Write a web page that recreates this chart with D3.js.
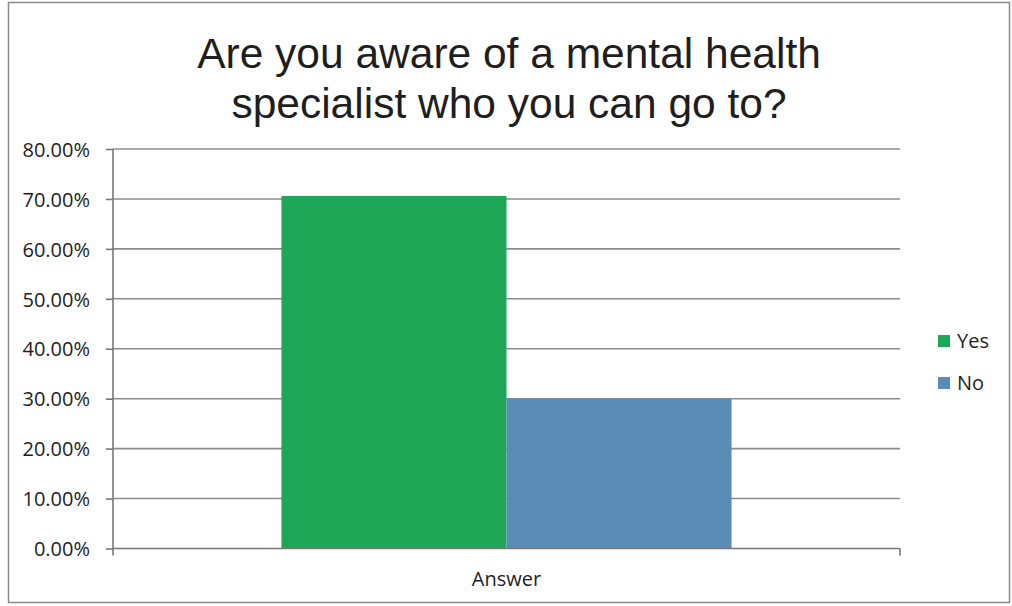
<!DOCTYPE html>
<meta charset="utf-8">
<html>
<head>
	<script src="https://cdn.jsdelivr.net/npm/d3@7/dist/d3.min.js"></script>
	<style>
		body { margin: 0; background: #fff; }
		svg text { fill: #1e1e1e; }
		.tick text { font-family: "Open Sans", "Noto Sans", sans-serif; font-size: 20px; }
	</style>
</head>
<body>
	<svg id="chart"></svg>
	<script>
	var categories = ["Answer"];
	var seriesNames = ["Yes", "No"];
	var seriesValues = [70.6, 30.0]; // percent
	var seriesColors = ["#1ea757", "#5b8cb7"];
	var yTicks = [0, 10, 20, 30, 40, 50, 60, 70, 80];
	var titleLines = ["Are you aware of a mental health", "specialist who you can go to?"];

	var svgWidth = 1012, svgHeight = 606;
	var plot = {left: 113, right: 900, top: 149, bottom: 548.5};

	var svg = d3.select("#chart")
		.attr("width", svgWidth)
		.attr("height", svgHeight);

	// outer frame
	svg.append("rect")
		.attr("x", 8.5).attr("y", 2.5)
		.attr("width", 1001).attr("height", 600)
		.attr("fill", "none")
		.attr("stroke", "#8a8a8a")
		.attr("stroke-width", 1.5);

	var y = d3.scaleLinear()
		.domain([0, 80])
		.range([plot.bottom, plot.top]);

	var x0 = d3.scaleBand()
		.domain(categories)
		.range([plot.left, plot.right])
		.padding(0.2723);

	var x1 = d3.scaleBand()
		.domain(seriesNames)
		.range([0, x0.bandwidth()]);

	// gridlines
	svg.append("g")
		.selectAll("line")
		.data(yTicks.filter(function(d) { return d > 0; }))
		.enter()
		.append("line")
			.attr("x1", plot.left).attr("x2", plot.right)
			.attr("y1", function(d) { return y(d); })
			.attr("y2", function(d) { return y(d); })
			.attr("stroke", "#8c8c8c")
			.attr("stroke-width", 1.6);

	// bars
	svg.append("g")
		.selectAll("rect")
		.data(seriesNames)
		.enter()
		.append("rect")
			.attr("x", function(d) { return x0(categories[0]) + x1(d); })
			.attr("y", function(d, i) { return y(seriesValues[i]); })
			.attr("width", x1.bandwidth())
			.attr("height", function(d, i) { return y(0) - y(seriesValues[i]); })
			.attr("fill", function(d, i) { return seriesColors[i]; });

	// y axis
	var yAxis = svg.append("g")
		.attr("transform", "translate(" + plot.left + ",0)")
		.call(d3.axisLeft(y)
			.tickValues(yTicks)
			.tickSize(7)
			.tickPadding(16)
			.tickFormat(function(d) { return d3.format(".2f")(d) + "%"; }));
	yAxis.select(".domain").remove();
	yAxis.selectAll(".tick line").attr("stroke", "#777").attr("stroke-width", 1.6);
	yAxis.selectAll(".tick text").attr("dy", "0.36em");
	yAxis.append("line")
		.attr("x1", 0).attr("x2", 0)
		.attr("y1", plot.top).attr("y2", plot.bottom + 7)
		.attr("stroke", "#777").attr("stroke-width", 1.6);

	// x axis
	var xAxis = svg.append("g")
		.attr("transform", "translate(0," + plot.bottom + ")");
	xAxis.append("line")
		.attr("x1", plot.left).attr("x2", plot.right)
		.attr("stroke", "#777").attr("stroke-width", 1.6);
	xAxis.append("line")
		.attr("x1", plot.right).attr("x2", plot.right)
		.attr("y1", 0).attr("y2", 7)
		.attr("stroke", "#777").attr("stroke-width", 1.6);
	xAxis.selectAll("text.cat")
		.data(categories)
		.enter()
		.append("text")
			.attr("class", "cat")
			.attr("x", function(d) { return x0(d) + x0.bandwidth() / 2; })
			.attr("y", 37)
			.attr("text-anchor", "middle")
			.style("font-family", "'Open Sans', 'Noto Sans', sans-serif")
			.style("font-size", "20px")
			.text(function(d) { return d; });

	// title
	svg.append("g")
		.selectAll("text")
		.data(titleLines)
		.enter()
		.append("text")
			.attr("x", 509)
			.attr("y", function(d, i) { return 68 + i * 50; })
			.attr("text-anchor", "middle")
			.style("font-family", "'Liberation Sans', Arial, sans-serif")
			.style("font-size", "42.5px")
			.text(function(d) { return d; });

	// legend
	var legend = svg.append("g")
		.selectAll("g")
		.data(seriesNames)
		.enter()
		.append("g")
			.attr("transform", function(d, i) { return "translate(938," + (335 + i * 42) + ")"; });
	legend.append("rect")
		.attr("width", 12).attr("height", 12)
		.attr("fill", function(d, i) { return seriesColors[i]; });
	legend.append("text")
		.attr("x", 19).attr("y", 13)
		.style("font-family", "'Open Sans', 'Noto Sans', sans-serif")
		.style("font-size", "20px")
		.text(function(d) { return d; });
	</script>
</body>
</html>
